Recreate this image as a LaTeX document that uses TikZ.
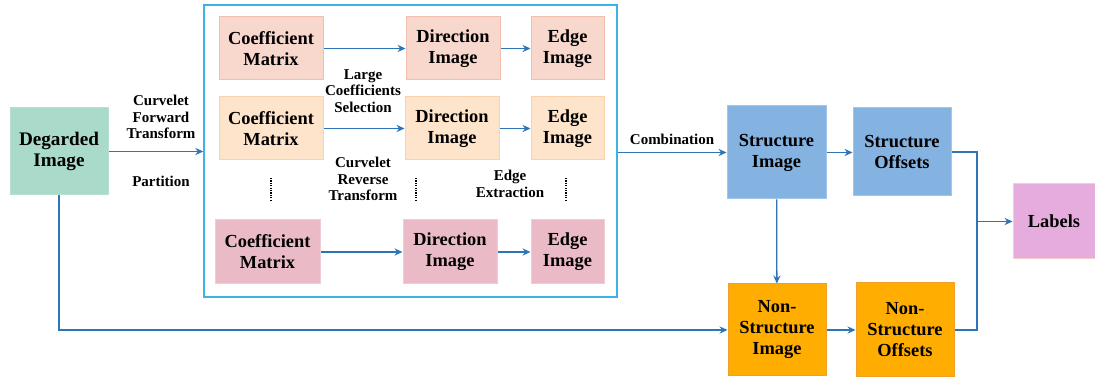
\documentclass[tikz,border=0pt]{standalone}
\usepackage{fontspec}
\setmainfont{Liberation Serif}
\usetikzlibrary{arrows.meta, positioning}
\definecolor{arrowblue}{RGB}{46,117,182}
\definecolor{framecyan}{RGB}{62,178,228}
\definecolor{tealfill}{RGB}{169,218,202}
\definecolor{salmonfill}{RGB}{248,215,204}
\definecolor{salmonline}{RGB}{242,190,176}
\definecolor{peachfill}{RGB}{255,228,204}
\definecolor{peachline}{RGB}{252,210,172}
\definecolor{rosefill}{RGB}{234,187,199}
\definecolor{roseline}{RGB}{240,205,212}
\definecolor{skyfill}{RGB}{132,178,225}
\definecolor{skyline}{RGB}{160,198,236}
\definecolor{amberfill}{RGB}{255,173,0}
\definecolor{amberline}{RGB}{238,160,40}
\definecolor{orchidfill}{RGB}{230,172,222}
\definecolor{orchidline}{RGB}{248,204,200}
\tikzset{
    box/.style={rectangle, draw, line width=0.5pt, align=center, inner sep=0pt,
        font=\bfseries\fontsize{9.2}{10.5}\selectfont},
    tealbox/.style={box, fill=tealfill, draw=tealfill!85!white,
        font=\bfseries\fontsize{9.6}{10.5}\selectfont},
    salmonbox/.style={box, fill=salmonfill, draw=salmonline},
    peachbox/.style={box, fill=peachfill, draw=peachline},
    rosebox/.style={box, fill=rosefill, draw=roseline},
    skybox/.style={box, fill=skyfill, draw=skyline},
    amberbox/.style={box, fill=amberfill, draw=amberline},
    orchidbox/.style={box, fill=orchidfill, draw=orchidline},
    arrow/.style={-{Stealth[length=4pt, width=3.6pt]}, line width=0.65pt, arrowblue},
    link/.style={line width=0.65pt, arrowblue},
    steptext/.style={align=center, font=\bfseries\fontsize{7.5}{8.2}\selectfont},
    dotcol/.style={line width=1.3pt, dash pattern=on 0.6pt off 0.6pt},
}

\begin{document}
\begin{tikzpicture}[x=0.5pt, y=-0.5pt]
    \useasboundingbox (0,0) rectangle (1095,378);
    % input and curvelet stage
    \node[tealbox, minimum width=49pt, minimum height=43.5pt] (deg) at (59,151.5) {Degarded\\Image};
    \node[rectangle, draw=framecyan, line width=0.75pt, minimum width=206.5pt, minimum height=146pt] (frame) at (410.5,151) {};
    \node[salmonbox, minimum width=52pt, minimum height=31.5pt] (coef1) at (271,48.5) {Coefficient\\Matrix};
    \node[salmonbox, minimum width=47pt, minimum height=31.5pt] (dir1) at (453,48.5) {Direction\\Image};
    \node[salmonbox, minimum width=36.5pt, minimum height=31.5pt] (edge1) at (567.5,48.5) {Edge\\Image};
    \node[peachbox, minimum width=52pt, minimum height=31.5pt] (coef2) at (271,128.5) {Coefficient\\Matrix};
    \node[peachbox, minimum width=47pt, minimum height=31.5pt] (dir2) at (452,128.5) {Direction\\Image};
    \node[peachbox, minimum width=36.5pt, minimum height=31.5pt] (edge2) at (567.5,128.5) {Edge\\Image};
    \node[rosebox, minimum width=52.5pt, minimum height=32pt] (coef3) at (267.5,252) {Coefficient\\Matrix};
    \node[rosebox, minimum width=47pt, minimum height=32pt] (dir3) at (450,252) {Direction\\Image};
    \node[rosebox, minimum width=36.5pt, minimum height=32pt] (edge3) at (567.5,252) {Edge\\Image};
    % structure branch
    \node[skybox, minimum width=49.5pt, minimum height=46.5pt] (simg) at (776.5,152.5) {Structure\\Image};
    \node[skybox, minimum width=49pt, minimum height=44pt] (soff) at (902,152) {Structure\\Offsets};
    \node[amberbox, minimum width=49pt, minimum height=46pt] (nsimg) at (777,330) {Non-\\Structure\\Image};
    \node[amberbox, minimum width=49pt, minimum height=47pt] (nsoff) at (905,330) {Non-\\Structure\\Offsets};
    \node[orchidbox, minimum width=41pt, minimum height=37.5pt] (labels) at (1054,221.5) {Labels};
    \coordinate (join) at (977,221.5);

    % step names
    \node[steptext] at (161,117) {Curvelet\\Forward\\Transform};
    \node[steptext] at (161,181) {Partition};
    \node[steptext] at (363,91) {Large\\Coefficients\\Selection};
    \node[steptext] at (363,179) {Curvelet\\Reverse\\Transform};
    \node[steptext] at (510,184) {Edge\\Extraction};
    \node[steptext] at (672,139) {Combination};

    % dots between rows
    \draw[dotcol] (271,178) -- (271,200);
    \draw[dotcol] (416,178) -- (416,200);
    \draw[dotcol] (566,178) -- (566,200);

    \draw[arrow] (deg.east) -- (deg.east -| frame.west);
    \draw[arrow] (coef1) -- (dir1);
    \draw[arrow] (dir1) -- (edge1);
    \draw[arrow] (coef2.east |- dir2.west) -- (dir2.west);
    \draw[arrow] (dir2) -- (edge2);
    \draw[arrow] (coef3) -- (dir3);
    \draw[arrow] (dir3) -- (edge3);
    \draw[arrow] (frame.east |- simg.west) -- (simg.west);
    \draw[arrow] (simg.east) -- (simg.east -| soff.west);
    \draw[arrow] (simg) -- (nsimg);
    \draw[arrow] (deg.south) |- (nsimg.west);
    \draw[arrow] (nsimg) -- (nsoff.west |- nsimg.east);
    \draw[link] (soff.east) -| (join);
    \draw[link] (nsoff.east) -| (join);
    \draw[arrow] (join) -- (labels.west);
\end{tikzpicture}
\end{document}
